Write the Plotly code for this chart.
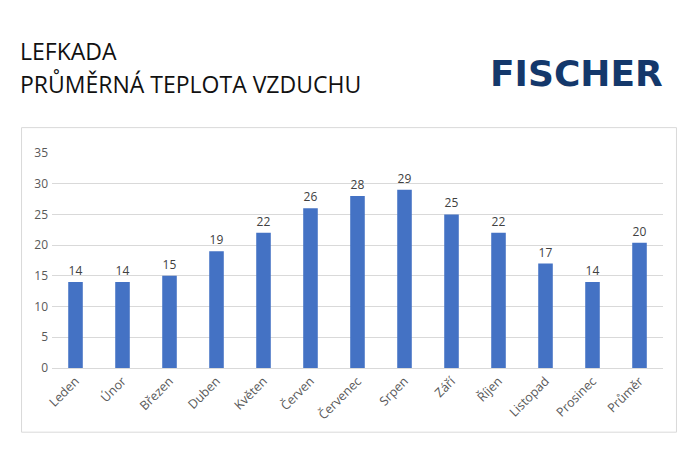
import plotly.graph_objects as go

# Average air temperature per month
months = ['Leden', 'Únor', 'Březen', 'Duben', 'Květen', 'Červen', 'Červenec',
          'Srpen', 'Září', 'Říjen', 'Listopad', 'Prosinec', 'Průměr']
temps = [14, 14, 15, 19, 22, 26, 28, 29, 25, 22, 17, 14, 20.4]
y_ticks = [0, 5, 10, 15, 20, 25, 30, 35]

# the page adds an 8px body margin, so the figure is 8px smaller each way
PAGE = 8
W, H = 700 - PAGE, 450 - PAGE
L, R, T, B = 51.5 - PAGE, 36.5, 152.5 - PAGE, 81.5
plot_w = W - L - R
plot_h = H - T - B


def px_x(v):
    return (v - PAGE - L) / plot_w


def px_y(v):
    return (H - B - (v - PAGE)) / plot_h


fig = go.Figure()
fig.add_trace(go.Bar(
    x=months, y=temps,
    width=0.31,
    marker=dict(color='#4472C4', line=dict(width=0)),
    texttemplate='%{y:.0f}',
    textposition='outside',
    textfont=dict(family='Open Sans', size=12, color='#404040'),
    cliponaxis=False,
))

# frame around the chart
fig.add_shape(type='rect', xref='paper', yref='paper', layer='below',
              x0=px_x(21), x1=px_x(677), y0=px_y(433), y1=px_y(127),
              line=dict(color='#D9D9D9', width=1), fillcolor='white')

fig.add_annotation(text='LEFKADA', xref='paper', yref='paper',
                   x=px_x(17.5), y=px_y(50), xanchor='left', yanchor='middle',
                   showarrow=False, font=dict(family='Open Sans', size=23, color='#111111'))
fig.add_annotation(text='PRŮMĚRNÁ TEPLOTA VZDUCHU', xref='paper', yref='paper',
                   x=px_x(17.5), y=px_y(83), xanchor='left', yanchor='middle',
                   showarrow=False, font=dict(family='Open Sans', size=23, color='#111111'))
fig.add_annotation(text='<b>FISCHER</b>', xref='paper', yref='paper',
                   x=px_x(577), y=px_y(73), xanchor='center', yanchor='middle',
                   showarrow=False, font=dict(family='DejaVu Sans', size=36, color='#14386B'))

fig.update_layout(
    width=W, height=H,
    autosize=False,
    margin=dict(l=L, r=R, t=T, b=B, pad=0),
    paper_bgcolor='white',
    plot_bgcolor='white',
    showlegend=False,
    font=dict(family='Open Sans', size=12, color='#595959'),
    xaxis=dict(tickangle=-45, showgrid=False, showline=True, linecolor='#D9D9D9',
               linewidth=1, ticks='', ticklabelstandoff=0,
               tickfont=dict(size=12.5, color='#595959')),
    yaxis=dict(range=[0, 35], tickvals=y_ticks, showgrid=True, gridcolor='#D9D9D9',
               gridwidth=1, zeroline=False, showline=False, ticks='', ticklabelstandoff=3,
               tickfont=dict(size=12, color='#595959')),
)

fig.write_html('out.html')
